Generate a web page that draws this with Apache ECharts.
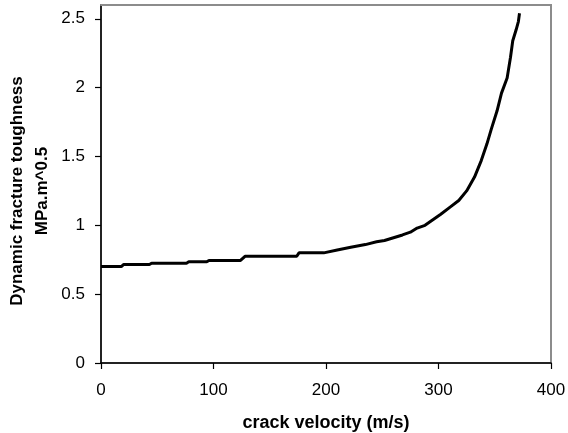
<!DOCTYPE html>
<html><head><meta charset="utf-8">
<script src="https://cdn.jsdelivr.net/npm/echarts@6/dist/echarts.min.js"></script>
<style>html,body{margin:0;padding:0;background:#fff}#c{width:568px;height:433px}</style>
</head><body><div id="c"></div>
<script>
const velocity = [0, 18, 20, 43, 45, 76, 78, 94, 96, 124, 128, 150, 174, 176, 198, 210, 222, 235, 245, 252, 260, 268, 275, 281, 288, 295, 302, 310, 318, 325, 332, 338, 343, 347, 352, 356, 361, 364, 366, 369, 371, 372];
const toughness = [0.70, 0.70, 0.715, 0.715, 0.725, 0.725, 0.735, 0.735, 0.745, 0.745, 0.775, 0.775, 0.775, 0.80, 0.80, 0.82, 0.84, 0.86, 0.88, 0.89, 0.91, 0.93, 0.95, 0.98, 1.00, 1.04, 1.08, 1.13, 1.18, 1.25, 1.35, 1.47, 1.59, 1.70, 1.83, 1.96, 2.07, 2.22, 2.34, 2.42, 2.48, 2.54];
const yTicks = [0, 0.5, 1, 1.5, 2, 2.5];
const xTitle = 'crack velocity (m/s)';
const yTitle = 'Dynamic fracture toughness\nMPa.m^0.5';

const chart = echarts.init(document.getElementById('c'));
const font = 'Liberation Sans, Arial, sans-serif';
const frameLine = { show: true, lineStyle: { color: '#8c8c8c', width: 2 }, onZero: false };
chart.setOption({
  animation: false,
  backgroundColor: '#fff',
  grid: { left: 101, right: 17, top: 5, bottom: 70, containLabel: false, outerBoundsMode: 'none',
          show: true, borderColor: '#8c8c8c', borderWidth: 2, backgroundColor: 'rgba(0,0,0,0)' },
  xAxis: [{
    type: 'value', min: 0, max: 400, interval: 100,
    name: xTitle, nameLocation: 'middle', nameGap: 51, nameMoveOverlap: false,
    nameTextStyle: { fontFamily: font, fontSize: 18, fontWeight: 'bold', color: '#000' },
    axisLine: { lineStyle: { color: '#000', width: 1.5 }, onZero: false },
    axisTick: { show: true, length: 6, inside: false, lineStyle: { color: '#000', width: 1.2 } },
    axisLabel: { fontFamily: font, fontSize: 17, color: '#000', margin: 19 },
    splitLine: { show: false }
  }, {
    type: 'value', position: 'top', min: 0, max: 400, show: true,
    axisLine: frameLine, axisTick: { show: false }, axisLabel: { show: false }, splitLine: { show: false }
  }],
  yAxis: [{
    type: 'value', min: 0, max: 2.6,
    name: yTitle, nameLocation: 'middle', nameRotate: 90, nameGap: 46, nameMoveOverlap: false,
    nameTextStyle: { fontFamily: font, fontSize: 17, fontWeight: 'bold', color: '#000', lineHeight: 25, align: 'center', padding: [0, 14, 0, 0] },
    axisLine: { show: true, lineStyle: { color: '#000', width: 1.5 }, onZero: false },
    axisTick: { show: true, length: 6, inside: false, customValues: yTicks, lineStyle: { color: '#000', width: 1.2 } },
    axisLabel: { fontFamily: font, fontSize: 17, color: '#000', margin: 16, customValues: yTicks },
    splitLine: { show: false }
  }, {
    type: 'value', position: 'right', min: 0, max: 2.6, show: true,
    axisLine: frameLine, axisTick: { show: false }, axisLabel: { show: false }, splitLine: { show: false }
  }],
  series: [{
    type: 'line',
    xAxisIndex: 0, yAxisIndex: 0,
    data: velocity.map((v, i) => [v, toughness[i]]),
    showSymbol: false,
    lineStyle: { color: '#000', width: 3 },
    smooth: false
  }]
});
</script></body></html>
